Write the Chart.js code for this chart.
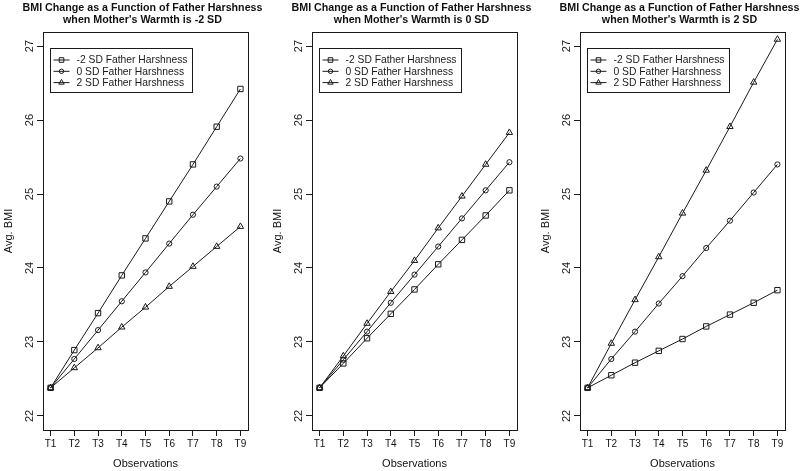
<!DOCTYPE html>
<html>
<head>
  <title>BMI Change as a Function of Father Harshness</title>
  <script src="https://cdn.jsdelivr.net/npm/chart.js"></script>
  <style>
    html, body { margin: 0; background: #fff; overflow: hidden; width: 800px; height: 471px; }
    .panel { position: absolute; top: 0; width: 268px; height: 471px; }
  </style>
</head>
<body>
  <div class="panel" style="left:0"><canvas id="c1"></canvas></div>
  <div class="panel" style="left:269px"><canvas id="c2"></canvas></div>
  <div class="panel" style="left:537px"><canvas id="c3"></canvas></div>

  <script>
    const observations = ['T1', 'T2', 'T3', 'T4', 'T5', 'T6', 'T7', 'T8', 'T9'];
    const yTicks = [22, 23, 24, 25, 26, 27];
    const seriesLabels = ['-2 SD Father Harshness', '0 SD Father Harshness', '2 SD Father Harshness'];

    const titleNeg2 = ['BMI Change as a Function of Father Harshness', "when Mother's Warmth is -2 SD"];
    const title0 = ['BMI Change as a Function of Father Harshness', "when Mother's Warmth is 0 SD"];
    const title2 = ['BMI Change as a Function of Father Harshness', "when Mother's Warmth is 2 SD"];

    // Mother's warmth -2 SD
    const mwNeg2_fhNeg2 = [22.38, 22.89, 23.39, 23.90, 24.40, 24.90, 25.40, 25.91, 26.42];
    const mwNeg2_fh0 = [22.38, 22.77, 23.16, 23.55, 23.94, 24.33, 24.72, 25.10, 25.48];
    const mwNeg2_fh2 = [22.38, 22.65, 22.92, 23.20, 23.47, 23.75, 24.02, 24.29, 24.56];
    // Mother's warmth 0 SD
    const mw0_fhNeg2 = [22.38, 22.71, 23.05, 23.38, 23.71, 24.05, 24.38, 24.71, 25.05];
    const mw0_fh0 = [22.38, 22.76, 23.14, 23.53, 23.91, 24.29, 24.67, 25.05, 25.43];
    const mw0_fh2 = [22.38, 22.81, 23.25, 23.68, 24.10, 24.54, 24.97, 25.40, 25.83];
    // Mother's warmth 2 SD
    const mw2_fhNeg2 = [22.38, 22.55, 22.72, 22.88, 23.04, 23.21, 23.37, 23.53, 23.70];
    const mw2_fh0 = [22.38, 22.77, 23.14, 23.52, 23.89, 24.27, 24.64, 25.02, 25.40];
    const mw2_fh2 = [22.38, 22.98, 23.57, 24.15, 24.74, 25.32, 25.91, 26.51, 27.09];

    const ink = '#1a1a1a';
    const fontFamily = 'Arial, "Liberation Sans", sans-serif';
    const markerStyles = ['rect', 'circle', 'triangle'];
    const markerRadii = [3.8, 2.6, 3.7];

    // title, box around the plot, rotated y tick labels (R style) and the inset legend
    const framePlugin = {
      id: 'frame',
      afterDraw(chart) {
        const { ctx, chartArea: a, scales } = chart;
        const lines = chart.options.plugins.frame.title;
        ctx.save();
        ctx.fillStyle = '#111';
        ctx.font = 'bold 10.7px ' + fontFamily;
        ctx.textAlign = 'center';
        ctx.textBaseline = 'middle';
        lines.forEach((t, i) => ctx.fillText(t, (a.left + a.right) / 2 - 3, 8 + i * 11.8));

        ctx.strokeStyle = ink;
        ctx.lineWidth = 1;
        ctx.strokeRect(Math.round(a.left) + 0.5, Math.round(a.top) + 0.5,
          Math.round(a.right - a.left), Math.round(a.bottom - a.top));

        ctx.fillStyle = ink;
        ctx.font = '11px ' + fontFamily;
        yTicks.forEach(v => {
          const y = scales.y.getPixelForValue(v);
          ctx.save();
          ctx.translate(a.left - 13, y);
          ctx.rotate(-Math.PI / 2);
          ctx.fillText(String(v), 0, 0);
          ctx.restore();
        });

        const lx = Math.round(a.left) + 7.5, ly = Math.round(a.top) + 16.5;
        ctx.strokeRect(lx, ly, 142, 44);
        ctx.font = '10.3px ' + fontFamily;
        ctx.textAlign = 'left';
        seriesLabels.forEach((label, k) => {
          const y = ly + 11.5 + k * 11.3;
          ctx.beginPath();
          ctx.moveTo(lx + 3, y);
          ctx.lineTo(lx + 19, y);
          ctx.stroke();
          ctx.fillStyle = 'rgba(0,0,0,0)';
          Chart.helpers.drawPoint(ctx, { pointStyle: markerStyles[k], radius: markerRadii[k] * 0.85, borderWidth: 1, rotation: 0 }, lx + 11, y);
          ctx.fillStyle = ink;
          ctx.fillText(label, lx + 26, y + 0.5);
        });
        ctx.restore();
      }
    };

    function makePanel(id, titleLines, series) {
      new Chart(document.getElementById(id), {
        type: 'line',
        data: {
          datasets: series.map((vals, k) => ({
            label: seriesLabels[k],
            data: vals.map((v, i) => ({ x: i + 1, y: v })),
            borderColor: ink,
            borderWidth: 1,
            tension: 0,
            pointStyle: markerStyles[k],
            pointRadius: markerRadii[k],
            pointBorderColor: ink,
            pointBackgroundColor: 'rgba(0,0,0,0)',
            pointBorderWidth: 1
          }))
        },
        options: {
          responsive: true,
          maintainAspectRatio: false,
          animation: false,
          layout: { padding: { top: 32, right: 20 } },
          plugins: {
            legend: { display: false },
            tooltip: { enabled: false },
            title: { display: false },
            frame: { title: titleLines }
          },
          scales: {
            x: {
              type: 'linear', min: 0.68, max: 9.32,
              afterBuildTicks: s => { s.ticks = observations.map((t, i) => ({ value: i + 1 })); },
              afterFit: s => { s.height = 41; },
              ticks: {
                callback: v => observations[v - 1], color: '#111', padding: 2,
                autoSkip: false, maxRotation: 0, font: { family: fontFamily, size: 10 }
              },
              grid: { drawOnChartArea: false, color: ink, tickLength: 6 },
              border: { display: false },
              title: { display: true, text: 'Observations', color: '#111', padding: 0, font: { family: fontFamily, size: 11 } }
            },
            y: {
              min: 21.81, max: 27.19,
              afterBuildTicks: s => { s.ticks = yTicks.map(v => ({ value: v })); },
              afterFit: s => { s.width = 43; },
              ticks: { display: false },
              grid: { drawOnChartArea: false, color: ink, tickLength: 6 },
              border: { display: false },
              title: { display: true, text: 'Avg. BMI', color: '#111', padding: { top: 2 }, font: { family: fontFamily, size: 11 } }
            }
          }
        },
        plugins: [framePlugin]
      });
    }

    makePanel('c1', titleNeg2, [mwNeg2_fhNeg2, mwNeg2_fh0, mwNeg2_fh2]);
    makePanel('c2', title0, [mw0_fhNeg2, mw0_fh0, mw0_fh2]);
    makePanel('c3', title2, [mw2_fhNeg2, mw2_fh0, mw2_fh2]);
  </script>
</body>
</html>
